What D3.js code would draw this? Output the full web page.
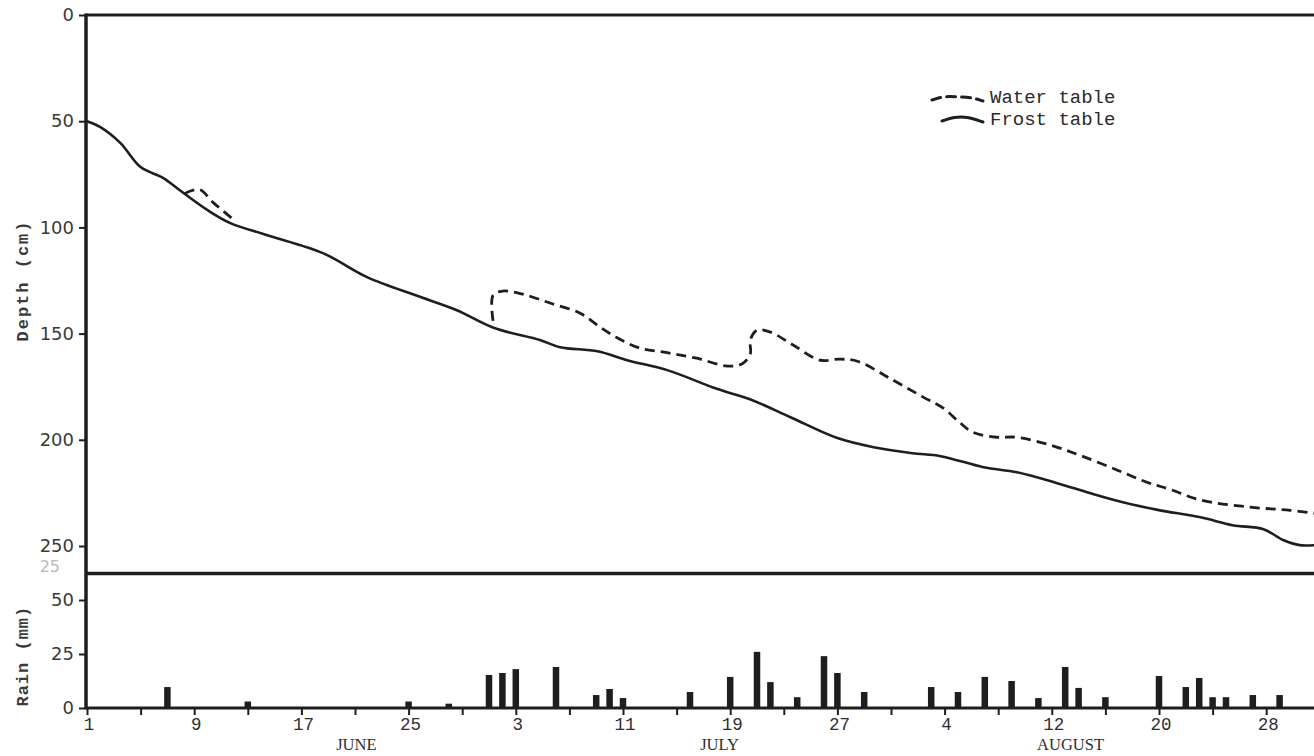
<!DOCTYPE html>
<html>
<head>
<meta charset="utf-8">
<script src="https://cdn.jsdelivr.net/npm/d3@7"></script>
<style>
  html, body { margin: 0; padding: 0; background: #fff; }
  svg { display: block; }
</style>
</head>
<body>
<svg id="chart" width="1314" height="756"></svg>
<script>
// Day index 0 = June 1
const frostTable = [
  [0,50],[1,52.8],[2.5,60.3],[4,71.6],[5.7,76.8],[6.9,82.4],[9,91.9],[10.7,98],
  [13.4,103.6],[17.6,112.1],[20.9,123.4],[24.9,132.8],[27.6,139],[30.4,147.4],
  [33.8,153],[35.3,156.4],[38.1,158.3],[40.3,162.5],[43.3,167.2],[47,176],
  [49.7,181.5],[52.5,189.4],[56,199.2],[58.7,203.5],[61.6,206.3],[63.7,207.7],
  [66.9,212.9],[69.4,215.3],[72.4,220.4],[74.9,225.2],[77.3,229.4],[79.9,233],
  [83.1,236.5],[85.5,240.2],[87.8,242.1],[89.3,247.3],[90.5,249.6],[91.6,249.6]
];

const waterTableEarly = [
  [7.3,84],[8.4,82.2],[9.4,88.2],[10.8,95.6]
];

const waterTableLate = [
  [30.3,144],[30.3,132],[31,130],[32.5,131.4],[34.6,135.7],[36.8,140.4],
  [38.3,147],[39.6,152.1],[41.3,156.9],[43.3,159],[45.5,161.6],[47.8,165.3],
  [48.9,164.2],[49.5,159.5],[49.5,153],[50,148.4],[51,149.3],[52.7,155.4],
  [54.7,162.5],[56.2,162],[57.5,163],[59.9,171],[62.4,179.9],[63.9,185.1],
  [65.1,191.7],[66.1,196.4],[67.9,198.8],[69.4,198.8],[71.9,202.5],[74.1,207.3],
  [76.9,214.3],[79.1,220],[80.8,223.3],[83.1,228.4],[86.8,231.7],[89.8,233.2],
  [91.6,234.6]
];

// Daily rainfall (mm)
const rainDays = [6,12,24,27,30,31,32,35,38,39,40,45,48,50,51,53,55,56,58,
                  63,65,67,69,71,73,74,76,80,82,83,84,85,87,89];
const rainMm   = [9.7,3,3,2,15.3,16.2,18,19,6,8.8,4.6,7.4,14.4,26,12,5,24,16.2,7.4,
                  9.7,7.4,14.4,12.5,4.6,19,9.3,5,14.8,9.7,13.9,5,5,6,6];

const depthTicks = [0,50,100,150,200,250];
const rainTicks = [0,25,50];
const dayMinorTicks = d3.range(0, 92, 4);
const dayLabelTicks = [0,8,16,24,32,40,48,56,64,72,80,88];
const dayLabels = ["1","9","17","25","3","11","19","27","4","12","20","28"];
const monthNames = ["JUNE","JULY","AUGUST"];
const monthDays = [20.1,47.2,73.4];

const ink = "#1e1e1e";
const svg = d3.select("#chart");

const x = d3.scaleLinear().domain([0,92]).range([87, 87 + 92*13.4]);
const yDepth = d3.scaleLinear().domain([0,250]).range([15,546]);
const yRain = d3.scaleLinear().domain([0,50]).range([708,600]);

const depthBottom = 263;

// Frame lines
svg.append("line")
  .attr("x1", x(0) - 1).attr("x2", 1314)
  .attr("y1", yDepth(0)).attr("y2", yDepth(0))
  .attr("stroke", ink).attr("stroke-width", 3.2);
svg.append("line")
  .attr("x1", x(0) - 1).attr("x2", 1314)
  .attr("y1", yDepth(depthBottom)).attr("y2", yDepth(depthBottom))
  .attr("stroke", ink).attr("stroke-width", 3.5);
svg.append("line")
  .attr("x1", x(0) - 1).attr("x2", 1314)
  .attr("y1", yRain(0)).attr("y2", yRain(0))
  .attr("stroke", ink).attr("stroke-width", 3);
svg.append("line")
  .attr("x1", x(0) - 1).attr("x2", x(0) - 1)
  .attr("y1", yDepth(0) - 1.5).attr("y2", yRain(0) + 1.5)
  .attr("stroke", ink).attr("stroke-width", 3.5);

const tickFont = "'DejaVu Sans', sans-serif";

// Depth axis
const depthAxis = d3.axisLeft(yDepth).tickValues(depthTicks).tickSize(6).tickPadding(5);
const gDepth = svg.append("g").attr("transform", `translate(${x(0) - 2},0)`).call(depthAxis);
gDepth.select(".domain").remove();
gDepth.selectAll(".tick line").attr("stroke", ink).attr("stroke-width", 2);
gDepth.selectAll(".tick text")
  .attr("font-family", tickFont).attr("font-size", 18)
  .attr("fill", "#3a3a3a");

// Rain axis
const rainAxis = d3.axisLeft(yRain).tickValues(rainTicks).tickSize(6).tickPadding(5);
const gRain = svg.append("g").attr("transform", `translate(${x(0) - 2},0)`).call(rainAxis);
gRain.select(".domain").remove();
gRain.selectAll(".tick line").attr("stroke", ink).attr("stroke-width", 2);
gRain.selectAll(".tick text")
  .attr("font-family", tickFont).attr("font-size", 18)
  .attr("fill", "#3a3a3a");

// Faint partial label between the panels
svg.append("text")
  .attr("x", 60).attr("y", yDepth(depthBottom) - 2)
  .attr("text-anchor", "end")
  .attr("font-family", tickFont).attr("font-size", 16)
  .attr("fill", "#b8b8b8").text("25");

// Day axis
const dayAxis = d3.axisBottom(x).tickValues(dayMinorTicks).tickSize(7).tickFormat("");
const gDay = svg.append("g").attr("transform", `translate(0,${yRain(0)})`).call(dayAxis);
gDay.select(".domain").remove();
gDay.selectAll(".tick line").attr("stroke", ink).attr("stroke-width", 2);

svg.append("g").selectAll("text")
  .data(dayLabelTicks)
  .join("text")
  .attr("x", d => x(d) + 2)
  .attr("y", yRain(0) + 22)
  .attr("text-anchor", "middle")
  .attr("font-family", "'Liberation Mono', monospace").attr("font-size", 17.5)
  .attr("fill", "#2e2e2e")
  .text((d, i) => dayLabels[i]);

svg.append("g").selectAll("text")
  .data(monthDays)
  .join("text")
  .attr("x", d => x(d))
  .attr("y", 750)
  .attr("text-anchor", "middle")
  .attr("font-family", "'Liberation Serif', serif").attr("font-size", 16.5)
  .attr("fill", "#2e2e2e")
  .text((d, i) => monthNames[i]);

// Axis titles
svg.append("text")
  .attr("transform", `translate(28,${yDepth(125)}) rotate(-90)`)
  .attr("text-anchor", "middle")
  .attr("font-family", "'Liberation Mono', monospace").attr("font-size", 17)
  .attr("letter-spacing", 2)
  .attr("font-weight", "bold").attr("fill", "#3a3a3a")
  .text("Depth (cm)");
svg.append("text")
  .attr("transform", `translate(28,${yRain(24)}) rotate(-90)`)
  .attr("text-anchor", "middle")
  .attr("font-family", "'Liberation Mono', monospace").attr("font-size", 17)
  .attr("letter-spacing", 1)
  .attr("font-weight", "bold").attr("fill", "#3a3a3a")
  .text("Rain (mm)");

// Rain bars
const barW = 6.5;
svg.append("g").selectAll("rect")
  .data(rainDays)
  .join("rect")
  .attr("x", d => x(d) - barW / 2)
  .attr("width", barW)
  .attr("y", (d, i) => yRain(rainMm[i]))
  .attr("height", (d, i) => yRain(0) - yRain(rainMm[i]))
  .attr("fill", ink);

// Depth lines
const depthLine = d3.line()
  .x(d => x(d[0]))
  .y(d => yDepth(d[1]))
  .curve(d3.curveCatmullRom.alpha(0.5));

svg.append("path")
  .datum(frostTable)
  .attr("d", depthLine)
  .attr("fill", "none").attr("stroke", ink)
  .attr("stroke-width", 2.6).attr("stroke-linejoin", "round");

[waterTableEarly, waterTableLate].forEach(seg => {
  svg.append("path")
    .datum(seg)
    .attr("d", depthLine)
    .attr("fill", "none").attr("stroke", ink)
    .attr("stroke-width", 2.8)
    .attr("stroke-dasharray", "10,6");
});

// Legend
const legendX = 990;
const legendRows = [
  { label: "Water table", y: 97, dash: "9,6", shape: [[0,3],[0.25,-1],[0.5,0],[0.75,0],[1,4]], x0: 932 },
  { label: "Frost table", y: 119, dash: null, shape: [[0,2],[0.3,-2],[0.6,-2.5],[1,3]], x0: 942 }
];
const legendLine = d3.line().curve(d3.curveBasis);
legendRows.forEach(r => {
  const w = 983 - r.x0;
  svg.append("path")
    .attr("d", legendLine(r.shape.map(p => [r.x0 + p[0] * w, r.y + p[1]])))
    .attr("fill", "none").attr("stroke", ink).attr("stroke-width", 3)
    .attr("stroke-linecap", "round")
    .attr("stroke-dasharray", r.dash);
  svg.append("text")
    .attr("x", legendX).attr("y", r.y + 6)
    .attr("font-family", "'Liberation Mono', monospace").attr("font-size", 19)
    .attr("fill", "#2a2a2a")
    .text(r.label);
});
</script>
</body>
</html>
